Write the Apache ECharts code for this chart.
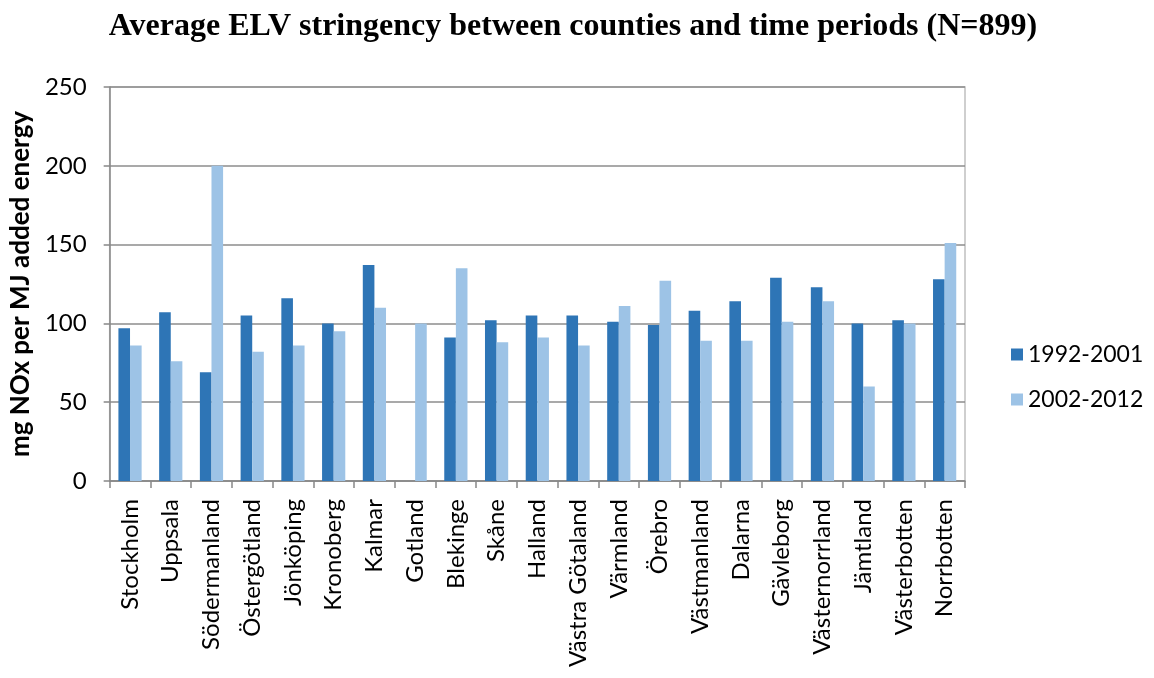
<!DOCTYPE html>
<html>
<head>
<meta charset="utf-8">
<script src="https://cdn.jsdelivr.net/npm/echarts@6/dist/echarts.min.js"></script>
<style>
  html, body { margin: 0; padding: 0; background: #fff; }
  #chart { width: 1154px; height: 678px; }
</style>
</head>
<body>
<div id="chart"></div>
<script>
// Swedish counties
const counties = ['Stockholm', 'Uppsala', 'Södermanland', 'Östergötland', 'Jönköping', 'Kronoberg',
  'Kalmar', 'Gotland', 'Blekinge', 'Skåne', 'Halland', 'Västra Götaland', 'Värmland', 'Örebro',
  'Västmanland', 'Dalarna', 'Gävleborg', 'Västernorrland', 'Jämtland', 'Västerbotten', 'Norrbotten'];

// Average emission limit values, mg NOx per MJ added energy
const period1992 = [97, 107, 69, 105, 116, 100, 137, null, 91, 102, 105, 105, 101, 99,
  108, 114, 129, 123, 100, 102, 128];
const period2002 = [86, 76, 200, 82, 86, 95, 110, 100, 135, 88, 91, 86, 111, 127,
  89, 89, 101, 114, 60, 100, 151];

const seriesNames = ['1992-2001', '2002-2012'];
const yTicks = [0, 50, 100, 150, 200, 250];

const sansFont = 'Lato, "Open Sans", sans-serif';

const chart = echarts.init(document.getElementById('chart'), null, { renderer: 'canvas' });
chart.setOption({
  animation: false,
  backgroundColor: '#ffffff',
  title: {
    text: 'Average ELV stringency between counties and time periods (N=899)',
    left: 568,
    textAlign: 'center',
    top: 6,
    textStyle: {
      fontFamily: '"Liberation Serif", "Times New Roman", serif',
      fontWeight: 'bold',
      fontSize: 32,
      color: '#000'
    }
  },
  legend: {
    orient: 'vertical',
    left: 1006,
    top: 338,
    itemGap: 22,
    itemWidth: 12,
    itemHeight: 12,
    icon: 'rect',
    textStyle: { fontFamily: sansFont, fontSize: 23, color: '#000' },
    data: seriesNames
  },
  grid: {
    left: 106,
    right: 189,
    top: 87,
    bottom: 197,
    show: true,
    borderColor: '#C0C0C0',
    borderWidth: 1.5,
    containLabel: false
  },
  xAxis: {
    type: 'category',
    data: counties,
    axisLine: { show: true, lineStyle: { color: '#888', width: 1.5 } },
    axisTick: { show: true, length: 7, alignWithLabel: false, lineStyle: { color: '#888', width: 1.5 } },
    axisLabel: {
      rotate: 90,
      interval: 0,
      margin: 18,
      fontFamily: sansFont,
      fontSize: 24,
      color: '#000'
    }
  },
  yAxis: {
    type: 'value',
    min: yTicks[0],
    max: yTicks[yTicks.length - 1],
    interval: 50,
    name: 'mg NOx per MJ added energy',
    nameLocation: 'middle',
    nameRotate: 90,
    nameGap: 72,
    nameTextStyle: { fontFamily: sansFont, fontWeight: 'bold', fontSize: 26, color: '#000' },
    axisLine: { show: true, lineStyle: { color: '#888', width: 1.5 } },
    axisTick: { show: true, length: 6, lineStyle: { color: '#888', width: 1.5 } },
    axisLabel: { margin: 23, fontFamily: sansFont, fontSize: 24, color: '#000' },
    splitLine: { show: true, lineStyle: { color: '#8C8C8C', width: 1.5 } }
  },
  series: [
    {
      name: seriesNames[0],
      type: 'bar',
      data: period1992,
      barGap: '0%',
      barCategoryGap: '43%',
      itemStyle: { color: '#2E75B6' }
    },
    {
      name: seriesNames[1],
      type: 'bar',
      data: period2002,
      barGap: '0%',
      barCategoryGap: '43%',
      itemStyle: { color: '#9DC3E6' }
    }
  ]
});
</script>
</body>
</html>
